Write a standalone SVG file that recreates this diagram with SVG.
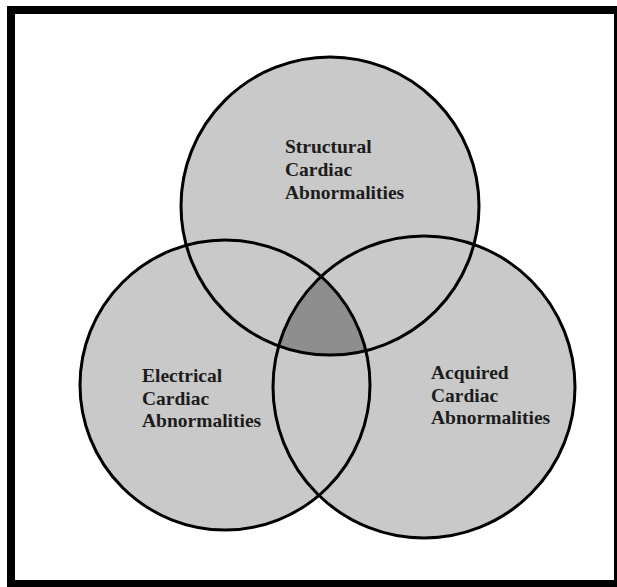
<svg xmlns="http://www.w3.org/2000/svg" width="617" height="587" viewBox="0 0 617 587">
  <style>
    .set { fill: #c9c9c9; }
    .ring { fill: none; stroke: #000; stroke-width: 3; }
    .core { fill: #8e8e8e; }
    .label { font-family: "Liberation Serif", "Times New Roman", serif; font-weight: bold; font-size: 19.5px; fill: #1c1c1c; }
  </style>
  <defs>
    <clipPath id="clip-structural"><circle cx="330" cy="206" r="149"/></clipPath>
    <clipPath id="clip-electrical"><circle cx="225" cy="385" r="145"/></clipPath>
  </defs>

  <!-- outer frame -->
  <rect x="0" y="0" width="617" height="587" fill="#fff"/>
  <rect x="7" y="6" width="610" height="581" fill="#000"/>
  <rect x="15" y="14" width="599" height="566" fill="#fff"/>

  <!-- set fills -->
  <circle class="set" cx="330" cy="206" r="149"/>
  <circle class="set" cx="225" cy="385" r="145"/>
  <circle class="set" cx="424" cy="387" r="151"/>

  <!-- region shared by all three sets -->
  <g id="overlap-all" clip-path="url(#clip-structural)">
    <g clip-path="url(#clip-electrical)">
      <circle class="core" cx="424" cy="387" r="151"/>
    </g>
  </g>

  <g id="structural">
    <circle class="ring" cx="330" cy="206" r="149"/>
    <text class="label" x="285" y="153">Structural</text>
    <text class="label" x="285" y="176">Cardiac</text>
    <text class="label" x="285" y="199">Abnormalities</text>
  </g>

  <g id="electrical">
    <circle class="ring" cx="225" cy="385" r="145"/>
    <text class="label" x="142" y="382">Electrical</text>
    <text class="label" x="142" y="405">Cardiac</text>
    <text class="label" x="142" y="427">Abnormalities</text>
  </g>

  <g id="acquired">
    <circle class="ring" cx="424" cy="387" r="151"/>
    <text class="label" x="431" y="379">Acquired</text>
    <text class="label" x="431" y="402">Cardiac</text>
    <text class="label" x="431" y="424">Abnormalities</text>
  </g>
</svg>
